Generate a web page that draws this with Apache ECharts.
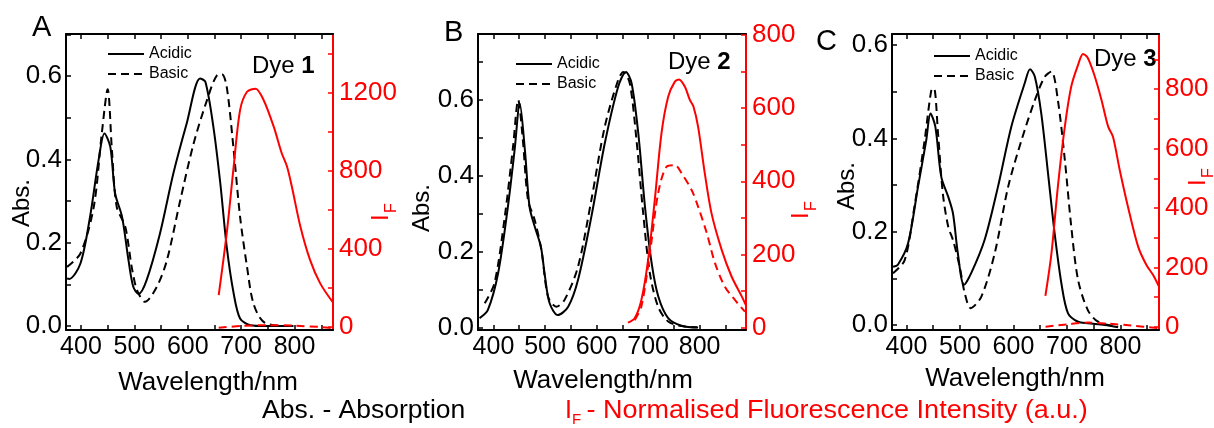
<!DOCTYPE html>
<html>
<head>
<meta charset="utf-8">
<script src="https://cdn.jsdelivr.net/npm/echarts@6/dist/echarts.min.js"></script>
<style>
  html, body { margin: 0; padding: 0; background: #fff; }
  #chart { width: 1214px; height: 428px; }
</style>
</head>
<body>
<div id="chart"></div>
<script>
// ---------- tick values ----------
const xTickValues = [400, 450, 500, 550, 600, 650, 700, 750, 800, 850];
const xLabelValues = [400, 500, 600, 700, 800];
const absTicksAB = [0, 0.1, 0.2, 0.3, 0.4, 0.5, 0.6, 0.7];
const absTicksC = [0, 0.1, 0.2, 0.3, 0.4, 0.5, 0.6];
const absLabels = [0, 0.2, 0.4, 0.6];
const ifTicksA = [0, 200, 400, 600, 800, 1000, 1200, 1400];
const ifLabelsA = [0, 400, 800, 1200];
const ifTicksB = [0, 100, 200, 300, 400, 500, 600, 700, 800];
const ifLabelsB = [0, 200, 400, 600, 800];
const ifTicksC = [0, 100, 200, 300, 400, 500, 600, 700, 800, 900];
const ifLabelsC = [0, 200, 400, 600, 800];

// ---------- Dye 1 ----------
const wlA_acid = [374, 378, 399, 417, 433, 444, 455, 464, 477, 489, 498, 508, 523, 548, 573, 598, 623, 633, 648, 661, 673, 686, 698, 717, 745, 798];
const absA_acid = [0.114, 0.113, 0.150, 0.262, 0.398, 0.462, 0.430, 0.318, 0.262, 0.158, 0.094, 0.077, 0.110, 0.222, 0.366, 0.486, 0.594, 0.586, 0.478, 0.342, 0.190, 0.078, 0.018, 0.002, 0.0, 0.0];
const wlA_base = [374, 399, 424, 439, 450, 458, 467, 483, 495, 505, 520, 542, 561, 586, 611, 636, 655, 664, 673, 686, 698, 711, 723, 742, 780, 798];
const absA_base = [0.142, 0.174, 0.286, 0.462, 0.568, 0.422, 0.286, 0.238, 0.142, 0.086, 0.058, 0.094, 0.158, 0.302, 0.438, 0.542, 0.602, 0.604, 0.574, 0.422, 0.262, 0.142, 0.054, 0.010, 0.0, 0.0];
const wlA_fAcid = [658, 673, 686, 698, 711, 727, 742, 761, 776, 786, 795, 811, 829, 848, 873];
const ifA_fAcid = [162, 479, 820, 1110, 1204, 1220, 1162, 1025, 889, 820, 717, 512, 342, 222, 120];
const wlA_fBase = [658, 700, 750, 800, 850, 873];
const ifA_fBase = [-6, 4, 8, 5, -2, -8];

// ---------- Dye 2 ----------
const wlB_acid = [373, 389, 409, 428, 441, 451, 461, 470, 480, 492, 500, 509, 525, 545, 564, 590, 616, 642, 657, 668, 681, 694, 707, 720, 739, 765, 797];
const absB_acid = [0.026, 0.047, 0.144, 0.319, 0.468, 0.591, 0.468, 0.319, 0.267, 0.214, 0.135, 0.065, 0.034, 0.056, 0.126, 0.293, 0.486, 0.635, 0.674, 0.644, 0.512, 0.319, 0.170, 0.082, 0.026, 0.006, 0.001];
const wlB_base = [383, 402, 422, 438, 448, 457, 467, 480, 493, 506, 522, 538, 564, 590, 616, 642, 652, 664.5, 677.5, 690.5, 703.5, 719.5, 739, 765, 795];
const absB_base = [0.065, 0.118, 0.293, 0.477, 0.600, 0.495, 0.337, 0.284, 0.205, 0.082, 0.056, 0.074, 0.161, 0.337, 0.530, 0.653, 0.674, 0.644, 0.495, 0.302, 0.144, 0.056, 0.017, 0.005, 0.002];
const wlB_fAcid = [661, 674, 687, 700, 713, 726, 739, 752, 760, 771.5, 781, 788, 797, 810, 823, 843, 862, 882, 891];
const ifB_fAcid = [14, 26, 76, 185, 349, 531, 631, 672, 678, 658, 622, 604, 549, 422, 313, 212, 140, 85, 58];
const wlB_fBase = [674, 687, 703.5, 719.5, 736, 752, 765, 784.5, 797, 814, 830, 849, 868.5, 888];
const ifB_fBase = [21, 58, 203, 367, 440, 444, 422, 376, 331, 258, 176, 112, 76, 44];

// ---------- Dye 3 ----------
const wlC_acid = [375, 384, 403, 421.6, 437, 445, 454, 465, 478, 487, 496, 507.6, 521, 546, 571, 596, 621, 631, 640, 652, 664.6, 677, 689.6, 702, 720.7, 739, 770.6, 795.5];
const absC_acid = [0.125, 0.129, 0.175, 0.296, 0.396, 0.453, 0.425, 0.318, 0.275, 0.239, 0.154, 0.086, 0.111, 0.182, 0.296, 0.425, 0.518, 0.548, 0.532, 0.453, 0.325, 0.196, 0.089, 0.025, 0.007, 0.004, 0.0, -0.005];
const wlC_base = [375, 396.7, 415, 434, 446.6, 451.5, 459, 468, 478, 487, 499.5, 509, 520, 540, 565, 590, 615, 640, 658.5, 671, 683, 696, 708, 720.7, 739, 758, 795.5];
const absC_base = [0.111, 0.139, 0.254, 0.396, 0.504, 0.507, 0.411, 0.282, 0.211, 0.182, 0.125, 0.068, 0.036, 0.061, 0.154, 0.296, 0.396, 0.482, 0.532, 0.543, 0.482, 0.354, 0.211, 0.097, 0.032, 0.007, -0.004];
const wlC_fAcid = [659.7, 671, 683, 696, 708, 720.7, 730, 739, 752, 764.5, 777, 786, 798.6, 814, 833, 848.5, 861, 872];
const ifC_fAcid = [104, 247, 472, 674, 809, 882, 919, 905, 843, 764, 674, 640, 528, 404, 270, 208, 174, 135];
const wlC_fBase = [660, 700, 740, 780, 820, 872];
const ifC_fBase = [0, 8, 14, 10, 4, -5];

// ---------- styling ----------
const FONT = 'Liberation Sans, Arial, sans-serif';
const BLACK = '#000000';
const RED = '#ff0000';
const DASH = [8, 5];

const pair = (xs, ys) => xs.map((x, i) => [x, ys[i]]);

const panels = [
  {
    grid: { left: 66, top: 34, width: 267, height: 296 },
    x: [372, 872],
    abs: [-0.0096, 0.7008], absTicks: absTicksAB,
    fl: [-17, 1500], flTicks: ifTicksA, flLabels: ifLabelsA,
    acid: pair(wlA_acid, absA_acid), base: pair(wlA_base, absA_base),
    fAcid: pair(wlA_fAcid, ifA_fAcid), fBase: pair(wlA_fBase, ifA_fBase)
  },
  {
    grid: { left: 478, top: 34, width: 268, height: 296 },
    x: [370, 890],
    abs: [-0.0053, 0.7737], absTicks: absTicksAB,
    fl: [-6, 802], flTicks: ifTicksB, flLabels: ifLabelsB,
    acid: pair(wlB_acid, absB_acid), base: pair(wlB_base, absB_base),
    fAcid: pair(wlB_fAcid, ifB_fAcid), fBase: pair(wlB_fBase, ifB_fBase)
  },
  {
    grid: { left: 892, top: 34, width: 267, height: 296 },
    x: [373, 872],
    abs: [-0.0107, 0.6236], absTicks: absTicksC,
    fl: [-11, 986], flTicks: ifTicksC, flLabels: ifLabelsC,
    acid: pair(wlC_acid, absC_acid), base: pair(wlC_base, absC_base),
    fAcid: pair(wlC_fAcid, ifC_fAcid), fBase: pair(wlC_fBase, ifC_fBase)
  }
];

const grids = [], xAxes = [], yAxes = [], series = [];

panels.forEach((p, i) => {
  grids.push(Object.assign({ containLabel: false }, p.grid));

  const xBase = {
    type: 'value', gridIndex: i, min: p.x[0], max: p.x[1],
    splitLine: { show: false },
    axisLine: { onZero: false, lineStyle: { color: BLACK, width: 2 } },
    axisTick: { inside: true, length: 5, customValues: xTickValues, lineStyle: { color: BLACK, width: 1.5 } }
  };
  xAxes.push(Object.assign({}, xBase, {
    position: 'bottom',
    axisLabel: { customValues: xLabelValues, color: BLACK, fontSize: 25, fontFamily: FONT, margin: 5 }
  }));
  xAxes.push(Object.assign({}, xBase, {
    position: 'top',
    axisLabel: { show: false }
  }));

  yAxes.push({
    type: 'value', gridIndex: i, position: 'left', min: p.abs[0], max: p.abs[1],
    splitLine: { show: false },
    axisLine: { onZero: false, lineStyle: { color: BLACK, width: 2 } },
    axisTick: { inside: true, length: 5, customValues: p.absTicks, lineStyle: { color: BLACK, width: 1.5 } },
    axisLabel: {
      customValues: absLabels, color: BLACK, fontSize: 26, fontFamily: FONT, margin: 4,
      formatter: v => v.toFixed(1)
    }
  });
  yAxes.push({
    type: 'value', gridIndex: i, position: 'right', min: p.fl[0], max: p.fl[1],
    splitLine: { show: false },
    axisLine: { onZero: false, lineStyle: { color: RED, width: 2 } },
    axisTick: { inside: true, length: 5, customValues: p.flTicks, lineStyle: { color: RED, width: 1.5 } },
    axisLabel: {
      customValues: p.flLabels, color: RED, fontSize: 26, fontFamily: FONT, margin: 6,
      formatter: v => String(Math.round(v))
    }
  });

  const line = (name, data, yIdx, color, type) => ({
    type: 'line', name, data,
    xAxisIndex: 2 * i, yAxisIndex: yIdx,
    showSymbol: false, symbol: 'none', smooth: 0.3, clip: true,
    itemStyle: { color },
    lineStyle: { color, width: 2, type },
    emphasis: { disabled: true }
  });
  series.push(line('Acidic', p.acid, 2 * i, BLACK, 'solid'));
  series.push(line('Basic', p.base, 2 * i, BLACK, DASH));
  series.push(line('Acidic IF', p.fAcid, 2 * i + 1, RED, 'solid'));
  series.push(line('Basic IF', p.fBase, 2 * i + 1, RED, DASH));
});

const legendAt = (left, top) => ({
  data: ['Acidic', 'Basic'], orient: 'vertical', left, top, padding: 0,
  itemWidth: 36, itemHeight: 12, itemGap: 4, selectedMode: false,
  itemStyle: { opacity: 0 },
  textStyle: { color: BLACK, fontSize: 16, fontFamily: FONT }
});

const txt = (text, x, y, size, color, extra) => Object.assign({
  type: 'text', x, y, silent: true,
  style: { text, fill: color, font: size + 'px ' + FONT, textAlign: 'left', textVerticalAlign: 'middle' }
}, extra || {});

const absName = (x, y) => ({
  type: 'text', x, y, rotation: Math.PI / 2, silent: true,
  style: { text: 'Abs.', fill: BLACK, font: '24px ' + FONT, textAlign: 'center', textVerticalAlign: 'middle' }
});

const ifName = (x, y) => ({
  type: 'group', x, y, rotation: Math.PI / 2, silent: true,
  children: [
    txt('I', 0, 0, 24, RED),
    txt('F', 8, 11, 16, RED)
  ]
});

const waveName = (x, y) => ({
  type: 'text', x, y, silent: true,
  style: { text: 'Wavelength/nm', fill: BLACK, font: '26px ' + FONT, textAlign: 'center', textVerticalAlign: 'middle' }
});

const dyeLabel = (n, x, y) => ({
  type: 'text', x, y, silent: true,
  style: {
    text: 'Dye {b|' + n + '}', fill: BLACK, font: '24px ' + FONT,
    textAlign: 'left', textVerticalAlign: 'middle',
    rich: { b: { fontWeight: 'bold', fontSize: 24, fontFamily: FONT, fill: BLACK } }
  }
});

const option = {
  animation: false,
  backgroundColor: '#ffffff',
  grid: grids,
  xAxis: xAxes,
  yAxis: yAxes,
  series,
  legend: [legendAt(107, 46), legendAt(515, 56), legendAt(933, 48)],
  graphic: [
    txt('A', 32, 28, 29, BLACK),
    txt('B', 444, 33, 29, BLACK),
    txt('C', 816, 42, 29, BLACK),
    absName(22, 203), absName(422, 208), absName(847, 186),
    ifName(381, 221), ifName(801, 219), ifName(1198, 186),
    waveName(208, 383), waveName(603, 381), waveName(1015, 379),
    dyeLabel(1, 252, 66), dyeLabel(2, 668, 62), dyeLabel(3, 1094, 59),
    txt('Abs. - Absorption', 262, 411, 25, BLACK, { scaleX: 1.06 }),
    txt('I', 565, 411, 25, RED),
    txt('F', 572, 420, 15, RED),
    txt(' - Normalised Fluorescence Intensity (a.u.)', 579, 411, 25, RED, { scaleX: 1.08 })
  ]
};

const chart = echarts.init(document.getElementById('chart'), null, { renderer: 'canvas' });
chart.setOption(option);
</script>
</body>
</html>
